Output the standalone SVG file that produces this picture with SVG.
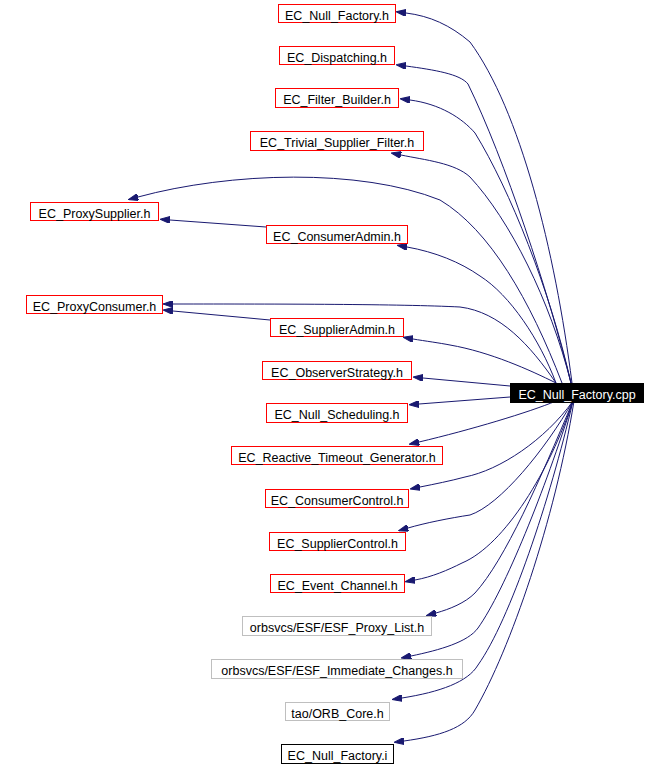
<svg xmlns="http://www.w3.org/2000/svg" width="668" height="766" viewBox="0 0 668 766">
<style>
.n rect{fill:#ffffff;stroke:#ff0000;stroke-width:1}
.n.g rect{stroke:#bfbfbf}
.n.k rect{stroke:#000000}
.n.m rect{fill:#000000;stroke:#000000}
.n text{font-family:"Liberation Sans",Arial,Helvetica,sans-serif;font-size:12.5px;fill:#000000;text-anchor:middle}
.n.m text{fill:#ffffff}
.e path{fill:none;stroke:#191970;stroke-width:1;marker-end:url(#ah)}
</style>
<defs>
<marker id="ah" viewBox="0 0 10 7" refX="0" refY="3.5" markerWidth="10" markerHeight="7" markerUnits="userSpaceOnUse" orient="auto">
<path d="M0,0 L10,3.5 L0,7 z" fill="#191970" stroke="#191970" stroke-width="1"/>
</marker>
</defs>
<rect width="668" height="766" fill="#ffffff"/>
<g id="edges" class="e">
<path d="M572,383 C555,250 520,110 470,42 C450,25 430,16 406,13"/>
<path d="M571,383 C548,290 505,160 468,84 C460,74 435,70 406,66"/>
<path d="M571,383 C550,290 510,190 475,133 C462,118 440,104 410,100"/>
<path d="M571,383 C550,300 510,220 470,177 C455,163 425,160 401,155"/>
<path d="M562,383 C530,300 490,230 440,200 C360,168 230,172 138,197"/>
<path d="M266,227 L170,220"/>
<path d="M556,383 C540,340 510,295 480,276 C460,262 435,252 407,247"/>
<path d="M556,383 C530,345 500,312 460,307 C400,304 280,304 173,304"/>
<path d="M270,320 L173,311"/>
<path d="M556,383 C530,370 490,352 450,345 C440,343 425,341 413,339"/>
<path d="M510,386 L423,378"/>
<path d="M510,397 L419,404"/>
<path d="M556,401 C530,412 470,430 419,442"/>
<path d="M573,401 C545,440 500,470 465,477 C450,481 435,484 420,487"/>
<path d="M573,401 C545,450 500,505 470,515 C450,518 425,523 408,528"/>
<path d="M573,401 C550,470 505,545 462,563 C448,570 432,577 415,580"/>
<path d="M573,401 C540,480 505,560 475,593 C465,603 450,609 436,613"/>
<path d="M573,401 C545,490 505,590 478,628 C468,642 440,650 411,656"/>
<path d="M573,401 C550,500 510,620 478,665 C468,682 440,692 402,698"/>
<path d="M574,401 C555,520 510,650 475,710 C465,728 440,736 404,741"/>
</g>
<g id="n1" class="n"><rect x="278.5" y="4.5" width="117" height="18"/><text x="337" y="19.5">EC_Null_Factory.h</text></g>
<g id="n2" class="n"><rect x="279.5" y="46.5" width="115" height="18"/><text x="337" y="61.5">EC_Dispatching.h</text></g>
<g id="n3" class="n"><rect x="275.5" y="88.5" width="123" height="19"/><text x="337" y="103.5">EC_Filter_Builder.h</text></g>
<g id="n4" class="n"><rect x="250.5" y="131.5" width="173" height="19"/><text x="337" y="146.5">EC_Trivial_Supplier_Filter.h</text></g>
<g id="n5" class="n"><rect x="30.5" y="202.5" width="128" height="18"/><text x="94.5" y="217.5">EC_ProxySupplier.h</text></g>
<g id="n6" class="n"><rect x="266.5" y="225.5" width="141" height="18"/><text x="337" y="240.5">EC_ConsumerAdmin.h</text></g>
<g id="n7" class="n"><rect x="26.5" y="295.5" width="136" height="18"/><text x="94.5" y="310.5">EC_ProxyConsumer.h</text></g>
<g id="n8" class="n"><rect x="270.5" y="318.5" width="133" height="18"/><text x="337" y="333.5">EC_SupplierAdmin.h</text></g>
<g id="n9" class="n"><rect x="262.5" y="361.5" width="149" height="18"/><text x="337" y="376.5">EC_ObserverStrategy.h</text></g>
<g id="n10" class="n"><rect x="266.5" y="403.5" width="141" height="19"/><text x="337" y="418.5">EC_Null_Scheduling.h</text></g>
<g id="n11" class="n"><rect x="231.5" y="446.5" width="211" height="18"/><text x="337" y="461.5">EC_Reactive_Timeout_Generator.h</text></g>
<g id="n12" class="n"><rect x="265.5" y="489.5" width="143" height="18"/><text x="337" y="504.5">EC_ConsumerControl.h</text></g>
<g id="n13" class="n"><rect x="269.5" y="532.5" width="136" height="18"/><text x="337.5" y="547.5">EC_SupplierControl.h</text></g>
<g id="n14" class="n"><rect x="270.5" y="574.5" width="134" height="18"/><text x="337.5" y="589.5">EC_Event_Channel.h</text></g>
<g id="n15" class="n g"><rect x="242.5" y="616.5" width="189" height="19"/><text x="337" y="631.5">orbsvcs/ESF/ESF_Proxy_List.h</text></g>
<g id="n16" class="n g"><rect x="211.5" y="659.5" width="251" height="19"/><text x="337" y="674.5">orbsvcs/ESF/ESF_Immediate_Changes.h</text></g>
<g id="n17" class="n g"><rect x="285.5" y="702.5" width="104" height="18"/><text x="337.5" y="717.5">tao/ORB_Core.h</text></g>
<g id="n18" class="n k"><rect x="281.5" y="744.5" width="112" height="19"/><text x="337.5" y="759.5">EC_Null_Factory.i</text></g>
<g id="main" class="n m"><rect x="510.5" y="383.5" width="133" height="19"/><text x="577" y="398.5">EC_Null_Factory.cpp</text></g>
</svg>
